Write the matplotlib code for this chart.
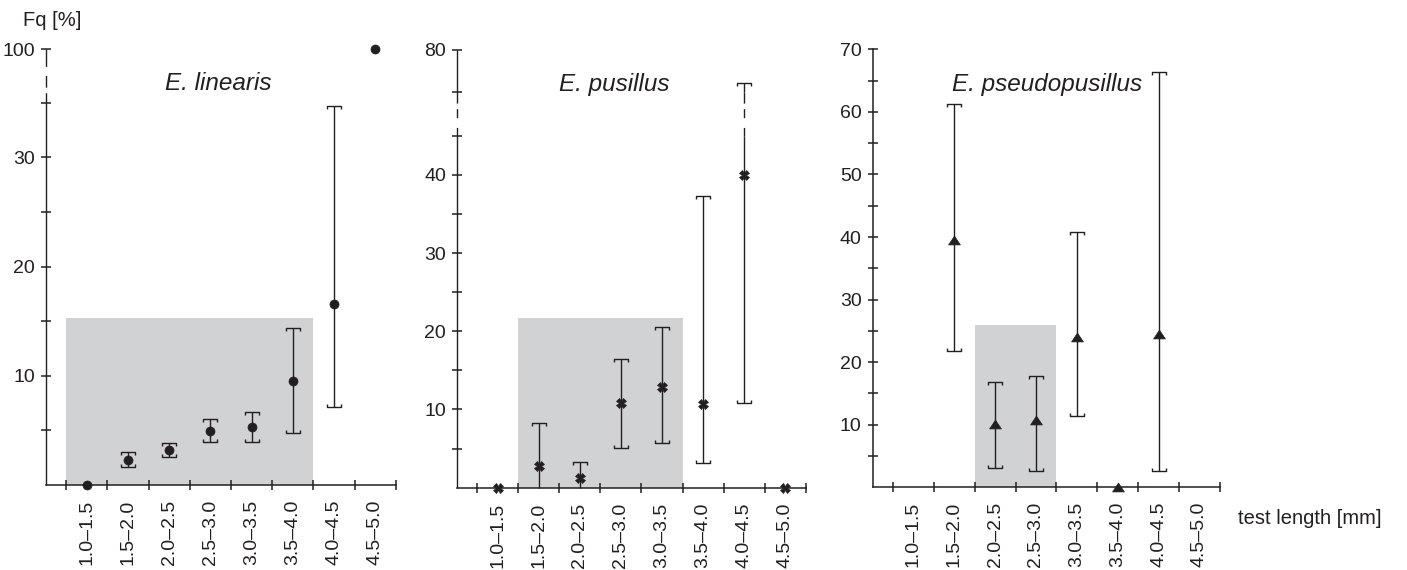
import numpy as np
import matplotlib.pyplot as plt
from matplotlib.path import Path

plt.rcParams['font.family'] = ['Liberation Sans', 'DejaVu Sans']

nan = np.nan
size_classes = ['1.0–1.5', '1.5–2.0', '2.0–2.5', '2.5–3.0',
                '3.0–3.5', '3.5–4.0', '4.0–4.5', '4.5–5.0']

# E. linearis: frequency and its confidence limits per size class
lin_fq = [0, 2.29, 3.21, 4.97, 5.29, 9.53, 16.56, 100]
lin_low = [nan, 1.62, 2.59, 3.91, 3.91, 4.74, 7.17, nan]
lin_high = [nan, 3.05, 3.82, 6.02, 6.66, 14.36, 34.7, nan]
lin_shade_bins = (0, 5)
lin_shade_top = 15.27

# E. pusillus
pus_fq = [0, 2.81, 1.24, 10.87, 12.92, 10.67, 40, 0]
pus_low = [nan, 0, 0, 5.12, 5.75, 3.12, 10.87, nan]
pus_high = [nan, 8.31, 3.29, 16.46, 20.55, 37.35, 76, nan]
pus_shade_bins = (1, 4)
pus_shade_top = 21.75

# E. pseudopusillus
pse_fq = [nan, 39.6, 10.07, 10.75, 23.97, 0, 24.45, nan]
pse_low = [nan, 21.8, 3.13, 2.65, 11.35, nan, 2.6, nan]
pse_high = [nan, 61.3, 16.9, 17.8, 40.75, nan, 66.4, nan]
pse_shade_bins = (2, 3)
pse_shade_top = 26

ink = '#231f20'
shade = '#d1d2d4'
W, H = 1407, 570
tick_fs = 14

fig = plt.figure(figsize=(W / 100, H / 100), dpi=100)

cap_top = Path([(-1, -0.4), (-1, 0), (1, 0), (1, -0.4)])
cap_bot = Path([(-1, 0.4), (-1, 0), (1, 0), (1, 0.4)])
triangle = Path([(0, 0.75), (-1, -0.75), (1, -0.75), (0, 0.75)], closed=True)


def piecewise(xs, ys):
    xs = np.asarray(xs, float)
    ys = np.asarray(ys, float)

    def f(v):
        v = np.asarray(v, float)
        out = np.interp(v, xs, ys)
        out = np.where(v < xs[0], ys[0] + (v - xs[0]), out)
        out = np.where(v > xs[-1], ys[-1] + (v - xs[-1]), out)
        return out
    return f


def vline(ax, x, y0, y1, brk, dash, transform=None):
    kw = dict(color=ink, lw=1.0, clip_on=False, solid_capstyle='butt')
    if transform is not None:
        kw['transform'] = transform
    if brk is None or y1 <= brk[0]:
        ax.plot([x, x], [y0, y1], **kw)
        return
    ax.plot([x, x], [y0, brk[0]], **kw)
    # broken stretch, drawn top-down so the dash pattern starts at the upper end
    ax.plot([x, x], [min(y1, brk[1]), brk[0]], ls=dash, **kw)
    if y1 > brk[1]:
        ax.plot([x, x], [brk[1], y1], **kw)


def panel(rect, title, title_xy, fq, low, high, marker, ms, knots,
          ticks, ticklabels, shade_bins, shade_top, dash=None):
    left, right, top_px, bottom = rect
    ax = fig.add_axes([left / W, 1 - bottom / H, (right - left) / W, (bottom - top_px) / H])
    fwd = piecewise(*knots)
    inv = piecewise(knots[1], knots[0])
    ax.set_yscale('function', functions=(fwd, inv))
    ax.set_xlim(-1, len(size_classes) - 0.5)
    ax.set_ylim(0, knots[0][-1])

    brk = (knots[0][1], knots[0][2]) if len(knots[0]) > 2 else None
    for s in ['top', 'right']:
        ax.spines[s].set_visible(False)
    ax.spines['bottom'].set_linewidth(1.1)
    ax.spines['bottom'].set_color(ink)
    if brk is None:
        ax.spines['left'].set_linewidth(1.1)
        ax.spines['left'].set_color(ink)
    else:
        ax.spines['left'].set_visible(False)
        vline(ax, 0, 0, knots[0][-1], brk, dash, transform=ax.get_yaxis_transform())

    # grey band behind the size classes of interest
    ax.fill_between([shade_bins[0] - 0.5, shade_bins[1] + 0.5], 0, shade_top,
                    color=shade, lw=0, zorder=0)

    x = np.arange(len(size_classes))
    for xi, lo, hi in zip(x, low, high):
        if np.isnan(lo):
            continue
        vline(ax, xi, lo, hi, brk, dash)
        ax.plot(xi, hi, ls='none', marker=cap_top, ms=10.5, mfc='none', mec=ink, mew=1.0, clip_on=False)
        if lo > 0:
            ax.plot(xi, lo, ls='none', marker=cap_bot, ms=10.5, mfc='none', mec=ink, mew=1.0, clip_on=False)
    ax.plot(x, fq, ls='none', marker=marker, ms=ms, color=ink, mec=ink, mew=0.5,
            clip_on=False, zorder=5)

    ax.set_xticks(np.arange(-0.5, len(size_classes)), labels=[])
    ax.set_xticks(x, labels=size_classes, minor=True)
    ax.tick_params(axis='x', which='major', direction='inout', length=7, width=1.1, color=ink)
    ax.tick_params(axis='x', which='minor', length=0, pad=10.5, rotation=90,
                   labelsize=tick_fs, labelcolor=ink)
    ax.set_yticks(ticks, labels=ticklabels)
    ax.yaxis.set_minor_locator(plt.NullLocator())
    ax.tick_params(axis='y', direction='inout', length=7.5, width=1.1, color=ink,
                   pad=4, labelsize=tick_fs, labelcolor=ink)

    fig.text(title_xy[0] / W, 1 - title_xy[1] / H, title, style='italic',
             fontsize=17.5, color=ink, ha='center', va='center')
    return ax


panel((45.7, 395.7, 49.3, 485.0), 'E. linearis', (218, 84),
      lin_fq, lin_low, lin_high, 'o', 6.5,
      ([0, 35, 100], [0, 35, 39.9]),
      [5, 10, 15, 20, 25, 30, 35, 100],
      ['', '10', '', '20', '', '30', '', '100'],
      lin_shade_bins, lin_shade_top, dash=(0, (12.5, 6.5, 8.5, 4)))

panel((456.7, 805.7, 50.0, 487.7), 'E. pusillus', (614, 84),
      pus_fq, pus_low, pus_high, 'X', 7,
      ([0, 45, 75, 80], [0, 45, 50.64, 55.97]),
      [5, 10, 15, 20, 25, 30, 35, 40, 45, 75, 80],
      ['', '10', '', '20', '', '30', '', '40', '', '', '80'],
      pus_shade_bins, pus_shade_top, dash=(0, (8, 4, 6.5, 7)))

panel((872.5, 1219.9, 49.3, 487.3), 'E. pseudopusillus', (1047.5, 84),
      pse_fq, pse_low, pse_high, triangle, 8.5,
      ([0, 70], [0, 70]),
      list(range(5, 71, 5)),
      [str(v) if v % 10 == 0 else '' for v in range(5, 71, 5)],
      pse_shade_bins, pse_shade_top)

fig.text(23 / W, 1 - 20 / H, 'Fq [%]', fontsize=14.5, color=ink, ha='left', va='center')
fig.text(1238 / W, 1 - 518 / H, 'test length [mm]', fontsize=14.5, color=ink,
         ha='left', va='center')

fig.savefig('out.png', dpi=100)
